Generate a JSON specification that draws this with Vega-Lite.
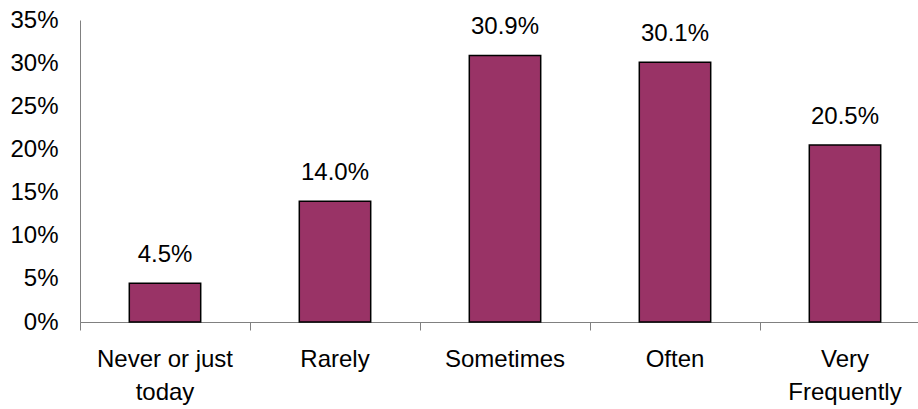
{
  "$schema": "https://vega.github.io/schema/vega-lite/v6.json",
  "width": 850,
  "height": 302,
  "autosize": {"type": "none"},
  "padding": {"left": 80, "top": 20, "right": 0, "bottom": 87},
  "background": "white",
  "config": {
    "view": {"stroke": null},
    "font": "Liberation Sans",
    "axis": {"labelFont": "Liberation Sans", "labelFontSize": 24, "labelColor": "black", "domainColor": "#808080", "tickColor": "#808080", "grid": false, "title": null}
  },
  "data": {
    "values": [
      {"category": "Never or just today", "value": 0.045},
      {"category": "Rarely", "value": 0.140},
      {"category": "Sometimes", "value": 0.309},
      {"category": "Often", "value": 0.301},
      {"category": "Very Frequently", "value": 0.205}
    ]
  },
  "encoding": {
    "x": {"field": "category", "type": "nominal", "sort": null, "scale": {"paddingInner": 0, "paddingOuter": 0}},
    "y": {"field": "value", "type": "quantitative", "scale": {"domain": [0, 0.35], "nice": false}}
  },
  "layer": [
    {
      "mark": {"type": "bar", "width": {"band": 0.42}, "color": "#993366", "stroke": "black", "strokeWidth": 1.5},
      "encoding": {
        "x": {"field": "category", "type": "nominal", "sort": null, "axis": {"orient": "bottom", "ticks": false, "labelAngle": 0, "labelPadding": 25, "labelLineHeight": 33, "labelBaseline": "top", "labelExpr": "datum.value == 'Never or just today' ? ['Never or just', 'today'] : datum.value == 'Very Frequently' ? ['Very', 'Frequently'] : datum.value"}},
        "y": {"field": "value", "type": "quantitative", "axis": {"values": [0, 0.05, 0.1, 0.15, 0.2, 0.25, 0.3, 0.35], "format": ".0%", "ticks": false, "labelPadding": 22}}
      }
    },
    {
      "mark": {"type": "text", "baseline": "alphabetic", "dy": -21, "fontSize": 24, "color": "black"},
      "encoding": {
        "x": {"field": "category", "type": "nominal", "sort": null, "axis": {"orient": "bottom", "labels": false, "ticks": true, "tickSize": 8, "bandPosition": 0}},
        "text": {"field": "value", "type": "quantitative", "format": ".1%"}
      }
    }
  ],
  "resolve": {"axis": {"x": "independent"}}
}
